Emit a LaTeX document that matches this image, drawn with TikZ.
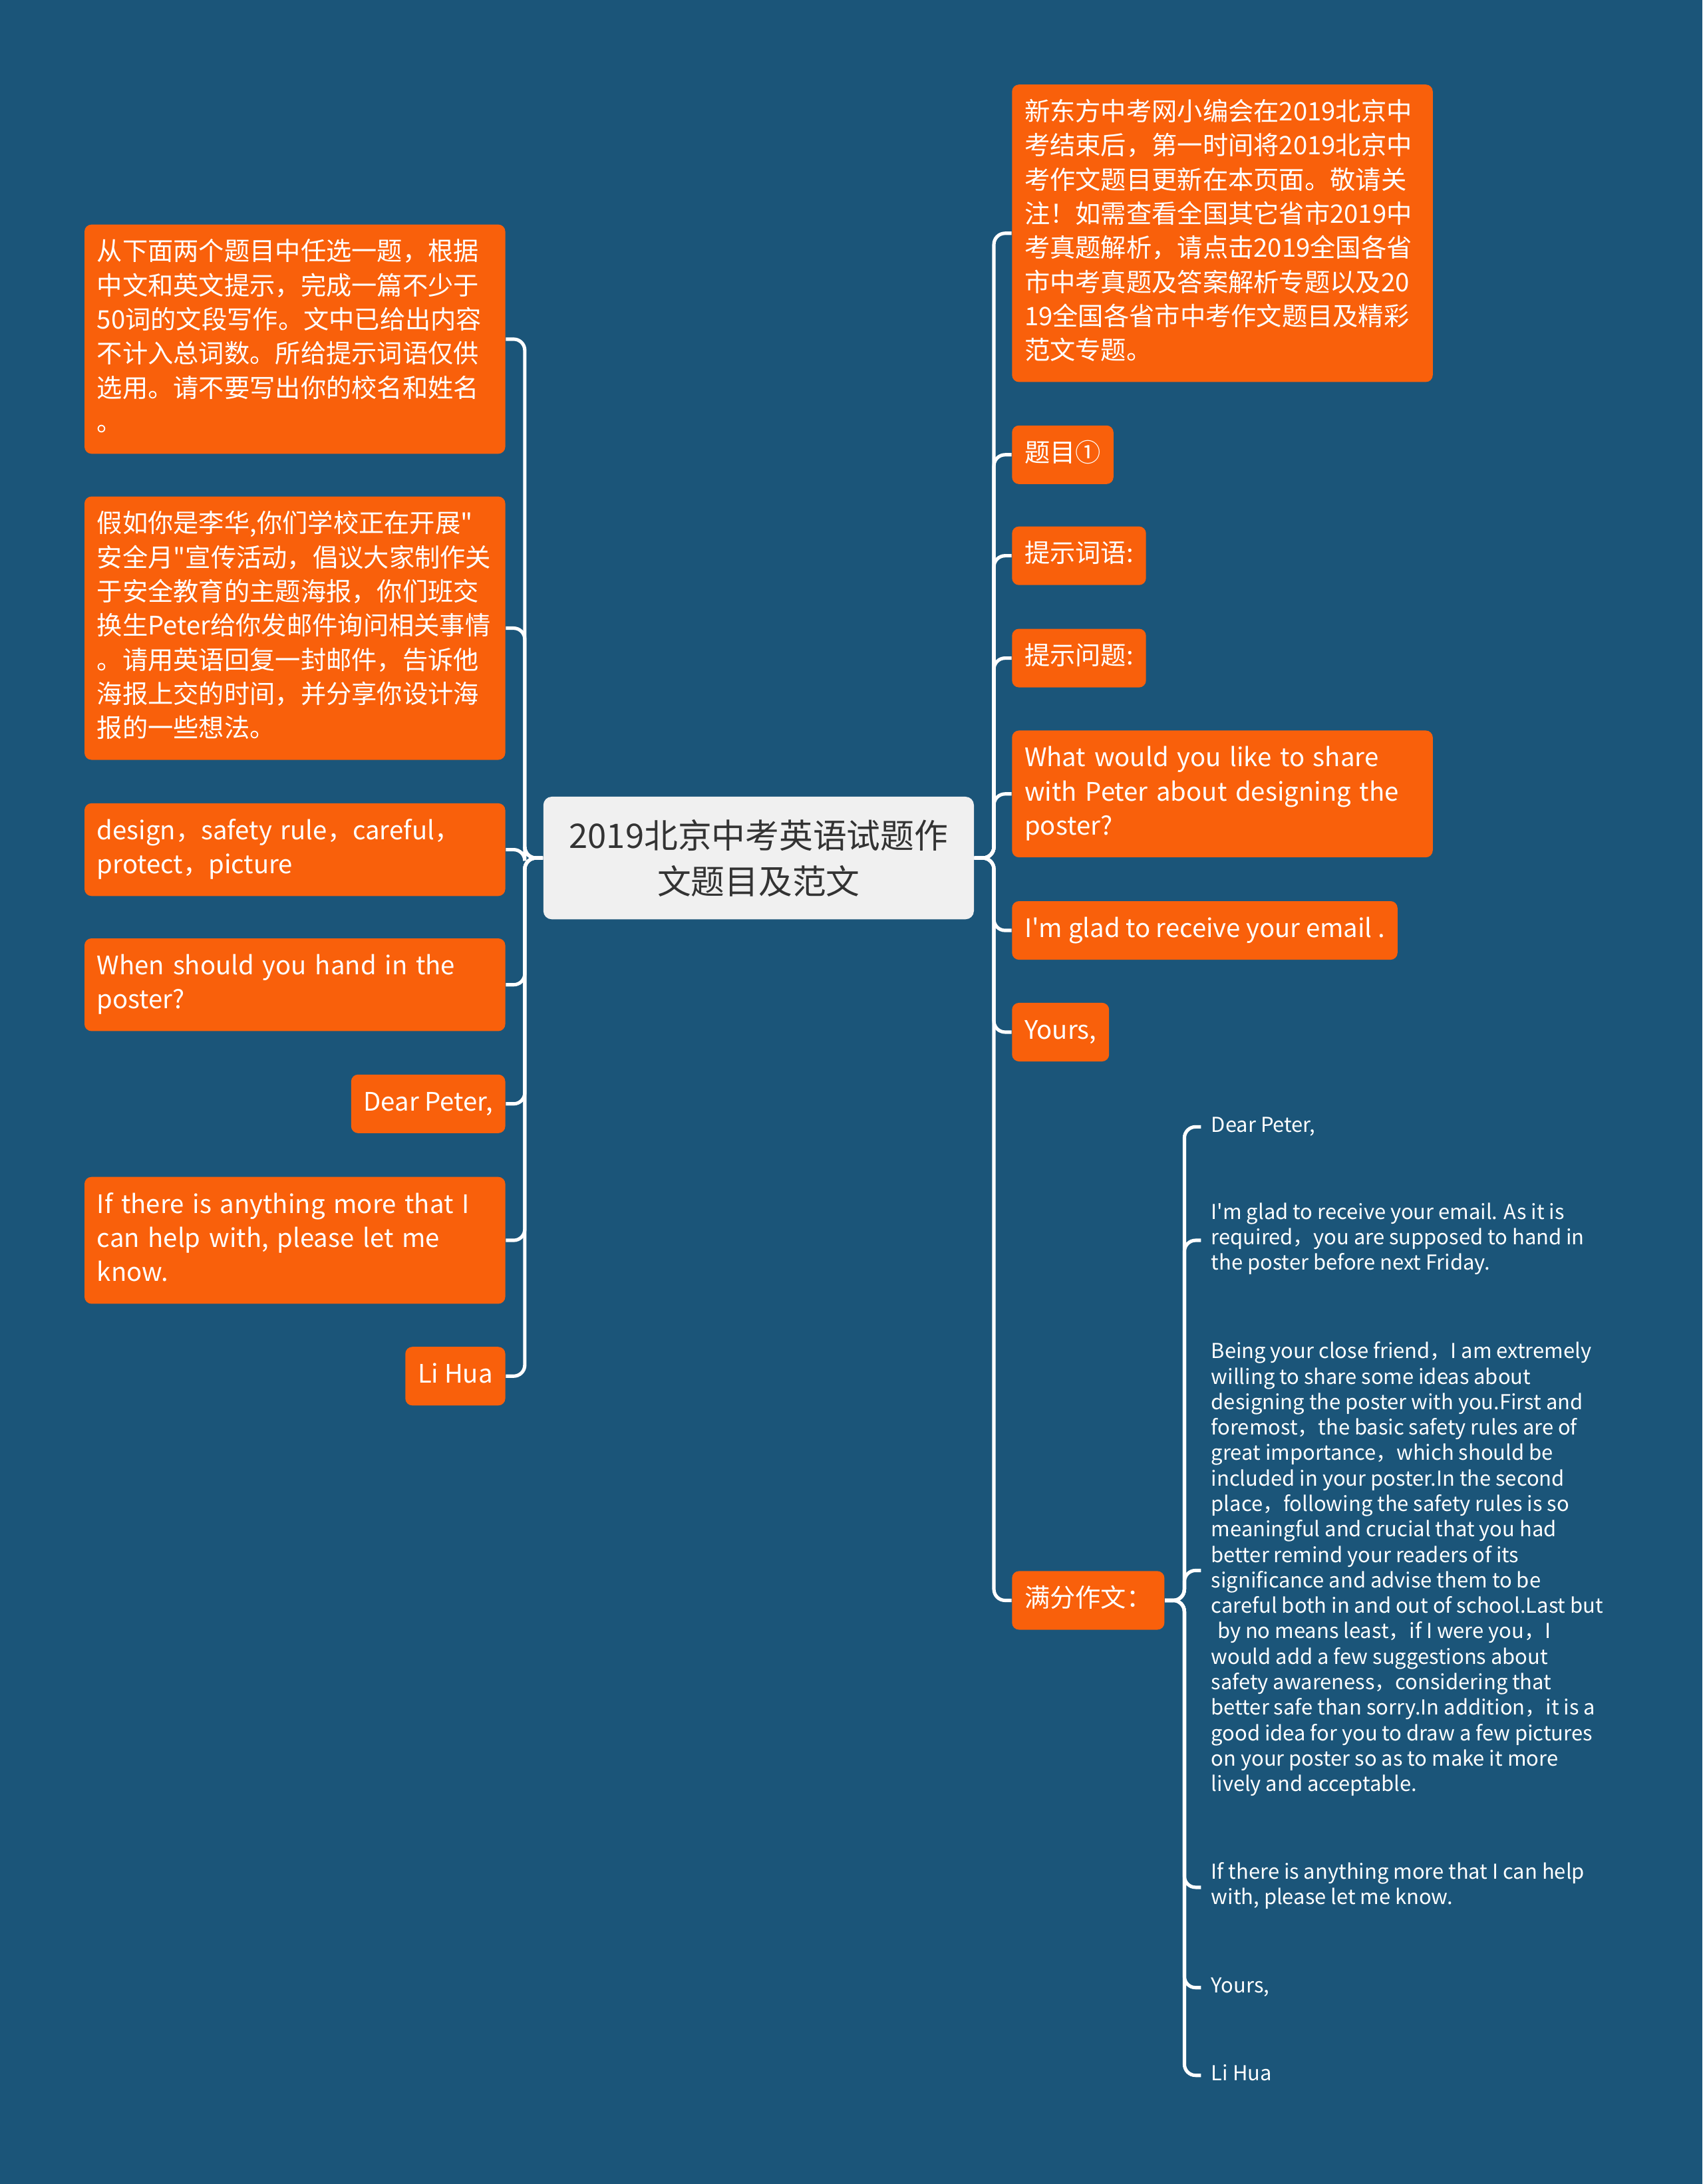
\documentclass[tikz,border=0pt]{standalone}
\usepackage{fontspec}
\setmainfont{Noto Sans CJK SC}[Ligatures=TeXOff]
\usetikzlibrary{positioning}
\definecolor{bgc}{HTML}{1B5579}
\definecolor{org}{HTML}{F9600B}
\definecolor{rootc}{HTML}{F0F0F0}
\definecolor{ink}{HTML}{333333}
\tikzset{
  obox/.style={fill=org, text=white, rounded corners=0.1cm, inner xsep=0.18cm, inner ysep=5pt,
    font=\fontsize{10.4}{13.94}\selectfont, execute at begin node=\strut, execute at end node=\strut},
  wbox/.style={obox, text width=5.68cm, align=left},
  note/.style={text=white, inner xsep=0.14cm, align=left, font=\fontsize{8.4}{10.4}\selectfont,
    execute at begin node=\strut, execute at end node=\strut},
  link/.style={draw=white, line width=1.4pt, rounded corners=0.16cm}}

\begin{document}
\begin{tikzpicture}
\fill[bgc] (0,0) rectangle (24.44,-31.36);
\node[fill=rootc, text=ink, rounded corners=0.12cm, minimum width=6.18cm, minimum height=1.76cm,
  align=center, font=\fontsize{13.8}{18.8}\selectfont] (root) at (10.89,-12.32) {2019北京中考英语试题作\\文题目及范文};
% left branch
\node[wbox, anchor=east] (l1) at (7.26,-4.87) {从下面两个题目中任选一题，根据\\中文和英文提示，完成一篇不少于\\50词的文段写作。文中已给出内容\\不计入总词数。所给提示词语仅供\\选用。请不要写出你的校名和姓名\\。};
\node[wbox, anchor=east] (l2) at (7.26,-9.02) {假如你是李华,你们学校正在开展"\\安全月"宣传活动，倡议大家制作关\\于安全教育的主题海报，你们班交\\换生Peter给你发邮件询问相关事情\\。请用英语回复一封邮件，告诉他\\海报上交的时间，并分享你设计海\\报的一些想法。};
\node[wbox, anchor=east] (l3) at (7.26,-12.2) {design，safety rule，careful，\\protect，picture};
\node[wbox, anchor=east] (l4) at (7.26,-14.14) {When should you hand in the\\poster?};
\node[obox, anchor=east] (l5) at (7.26,-15.85) {Dear Peter,};
\node[wbox, anchor=east] (l6) at (7.26,-17.81) {If there is anything more that I\\can help with, please let me\\know.};
\node[obox, anchor=east] (l7) at (7.26,-19.76) {Li Hua};
% right branch
\node[wbox, anchor=west] (r1) at (14.52,-3.35) {新东方中考网小编会在2019北京中\\考结束后，第一时间将2019北京中\\考作文题目更新在本页面。敬请关\\注！如需查看全国其它省市2019中\\考真题解析，请点击2019全国各省\\市中考真题及答案解析专题以及20\\19全国各省市中考作文题目及精彩\\范文专题。};
\node[obox, anchor=west] (r2) at (14.52,-6.53) {题目①};
\node[obox, anchor=west] (r3) at (14.52,-7.98) {提示词语:};
\node[obox, anchor=west] (r4) at (14.52,-9.45) {提示问题:};
\node[wbox, anchor=west] (r5) at (14.52,-11.4) {What would you like to share\\with Peter about designing the\\poster?};
\node[obox, anchor=west] (r6) at (14.52,-13.36) {I'm glad to receive your email .};
\node[obox, anchor=west] (r7) at (14.52,-14.82) {Yours,};
\node[obox, anchor=west] (r8) at (14.52,-22.98) {满分作文：};
% the model letter
\node[note, anchor=west] (c1) at (17.24,-16.18) {Dear Peter,};
\node[note, anchor=west] (c2) at (17.24,-17.81) {I'm glad to receive your email. As it is\\required，you are supposed to hand in\\the poster before next Friday.};
\node[note, anchor=west] (c3) at (17.24,-22.55) {Being your close friend，I am extremely\\willing to share some ideas about\\designing the poster with you.First and\\foremost，the basic safety rules are of\\great importance，which should be\\included in your poster.In the second\\place，following the safety rules is so\\meaningful and crucial that you had\\better remind your readers of its\\significance and advise them to be\\careful both in and out of school.Last but\\\hspace*{.3em}by no means least，if I were you，I\\would add a few suggestions about\\safety awareness，considering that\\better safe than sorry.In addition，it is a\\good idea for you to draw a few pictures\\on your poster so as to make it more\\lively and acceptable.};
\node[note, anchor=west] (c4) at (17.24,-27.1) {If there is anything more that I can help\\with, please let me know.};
\node[note, anchor=west] (c5) at (17.24,-28.54) {Yours,};
\node[note, anchor=west] (c6) at (17.24,-29.8) {Li Hua};
% connectors
\foreach \n in {l1,l2,l3,l4,l5,l6,l7} \draw[link] (root.west) -- ++(-0.26,0) |- (\n.east);
\foreach \n in {r1,r2,r3,r4,r5,r6,r7,r8} \draw[link] (root.east) -- ++(0.28,0) |- (\n.west);
\foreach \n in {c1,c2,c3,c4,c5,c6} \draw[link] (r8.east) -- ++(0.28,0) |- (\n.west);
\end{tikzpicture}
\end{document}
